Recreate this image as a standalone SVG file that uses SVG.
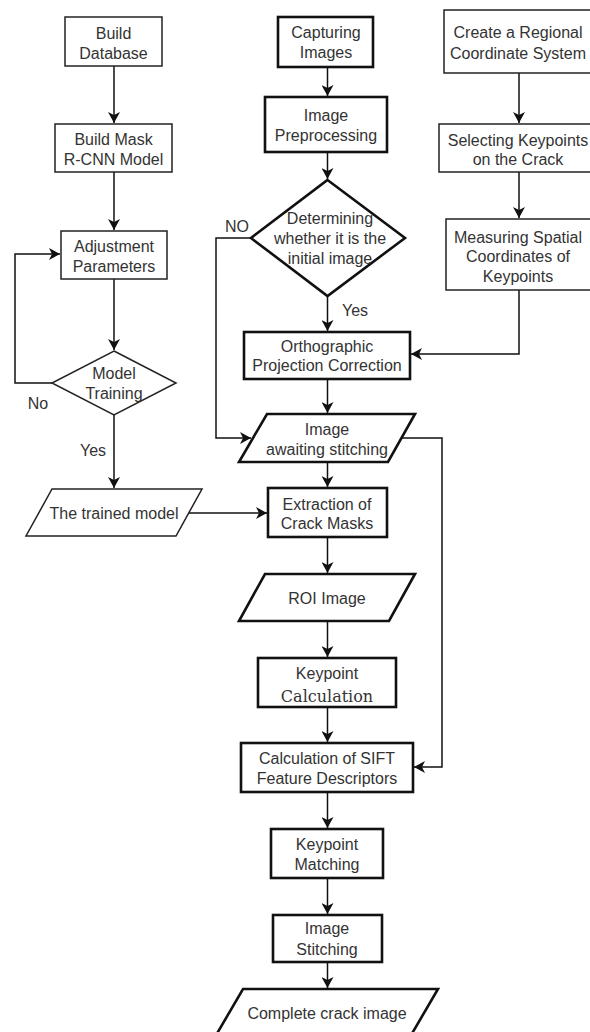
<svg xmlns="http://www.w3.org/2000/svg" width="590" height="1032" viewBox="0 0 590 1032">
<style>
  .thin{fill:#fff;stroke:#222;stroke-width:1.5}
  .thick{fill:#fff;stroke:#111;stroke-width:2.6}
  .t{font-family:"Liberation Sans",Arial,sans-serif;font-size:16px;fill:#333;text-anchor:middle}
  .s{font-family:"DejaVu Serif","Liberation Serif",serif;font-size:16px;fill:#333;text-anchor:middle}
  .c{fill:none;stroke:#111;stroke-width:1.5}
</style>
<defs>
  <marker id="ah" markerUnits="userSpaceOnUse" markerWidth="12" markerHeight="12" refX="11" refY="6" orient="auto">
    <path d="M0,0 L11,6 L0,12 L3,6 Z" fill="#111"/>
  </marker>
</defs>
<rect width="590" height="1032" fill="#fff"/>

<g id="connectors">
  <path class="c" d="M114,66 V123" marker-end="url(#ah)"/>
  <path class="c" d="M114,172 V230" marker-end="url(#ah)"/>
  <path class="c" d="M114,279 V350" marker-end="url(#ah)"/>
  <path class="c" d="M52,383 H15 V254 H60" marker-end="url(#ah)"/>
  <path class="c" d="M114,415 V488" marker-end="url(#ah)"/>
  <path class="c" d="M189,513 H267" marker-end="url(#ah)"/>
  <path class="c" d="M327.5,67 V96" marker-end="url(#ah)"/>
  <path class="c" d="M327.5,152 V179" marker-end="url(#ah)"/>
  <path class="c" d="M327.5,296 V331" marker-end="url(#ah)"/>
  <path class="c" d="M251,238 H216 V438 H251" marker-end="url(#ah)"/>
  <path class="c" d="M327.5,379 V413" marker-end="url(#ah)"/>
  <path class="c" d="M327.5,462 V487" marker-end="url(#ah)"/>
  <path class="c" d="M401,438 H442 V767 H414" marker-end="url(#ah)"/>
  <path class="c" d="M327.5,537 V573" marker-end="url(#ah)"/>
  <path class="c" d="M327.5,621 V657" marker-end="url(#ah)"/>
  <path class="c" d="M327.5,707 V742" marker-end="url(#ah)"/>
  <path class="c" d="M327.5,792 V828" marker-end="url(#ah)"/>
  <path class="c" d="M327.5,878 V914" marker-end="url(#ah)"/>
  <path class="c" d="M327.5,962 V988" marker-end="url(#ah)"/>
  <path class="c" d="M519,73 V123" marker-end="url(#ah)"/>
  <path class="c" d="M519,172 V218" marker-end="url(#ah)"/>
  <path class="c" d="M519,290 V354 H411" marker-end="url(#ah)"/>
</g>

<g id="labels">
  <text class="t" x="38" y="409">No</text>
  <text class="t" x="93" y="456">Yes</text>
  <text class="t" x="237" y="232">NO</text>
  <text class="t" x="355" y="316">Yes</text>
</g>

<g id="build-database">
  <rect class="thin" x="65" y="17" width="97" height="49"/>
  <text class="t" x="113.5" y="39">Build</text>
  <text class="t" x="113.5" y="59">Database</text>
</g>
<g id="build-mask">
  <rect class="thin" x="55" y="124" width="117" height="48"/>
  <text class="t" x="113.5" y="145">Build Mask</text>
  <text class="t" x="113.5" y="165">R-CNN Model</text>
</g>
<g id="adjustment">
  <rect class="thin" x="61" y="231" width="106" height="48"/>
  <text class="t" x="114" y="252">Adjustment</text>
  <text class="t" x="114" y="272">Parameters</text>
</g>
<g id="model-training">
  <polygon class="thin" points="114,351 176,383 114,415 52,383"/>
  <text class="t" x="114" y="379">Model</text>
  <text class="t" x="114" y="399">Training</text>
</g>
<g id="trained-model">
  <polygon class="thin" points="52,489 202,489 176,536 26,536"/>
  <text class="t" x="114" y="519">The trained model</text>
</g>

<g id="capturing">
  <rect class="thick" x="278" y="17" width="95" height="50"/>
  <text class="t" x="326" y="38">Capturing</text>
  <text class="t" x="326" y="58">Images</text>
</g>
<g id="preprocessing">
  <rect class="thick" x="265" y="97" width="122" height="55"/>
  <text class="t" x="326" y="121">Image</text>
  <text class="t" x="326" y="141">Preprocessing</text>
</g>
<g id="determining">
  <polygon class="thick" points="327.5,180 405,238 327.5,296 251,238"/>
  <text class="t" x="330" y="224">Determining</text>
  <text class="t" x="330" y="244">whether it is the</text>
  <text class="t" x="330" y="264">initial image</text>
</g>
<g id="orthographic">
  <rect class="thick" x="244" y="332" width="166" height="47"/>
  <text class="t" x="327" y="352">Orthographic</text>
  <text class="t" x="327" y="371">Projection Correction</text>
</g>
<g id="awaiting">
  <polygon class="thick" points="267,414 415,414 388,462 239,462"/>
  <text class="t" x="327" y="435">Image</text>
  <text class="t" x="327" y="455">awaiting stitching</text>
</g>
<g id="extraction">
  <rect class="thick" x="268" y="488" width="119" height="49"/>
  <text class="t" x="327" y="510">Extraction of</text>
  <text class="t" x="327" y="529">Crack Masks</text>
</g>
<g id="roi">
  <polygon class="thick" points="265,574 415,574 389,621 239,621"/>
  <text class="t" x="327" y="604">ROI Image</text>
</g>
<g id="keypoint-calc">
  <rect class="thick" x="258" y="658" width="138" height="49"/>
  <text class="t" x="327" y="679">Keypoint</text>
  <text class="s" x="327" y="702">Calculation</text>
</g>
<g id="sift">
  <rect class="thick" x="241" y="743" width="172" height="49"/>
  <text class="t" x="327" y="764">Calculation of SIFT</text>
  <text class="t" x="327" y="784">Feature Descriptors</text>
</g>
<g id="matching">
  <rect class="thick" x="271" y="829" width="112" height="49"/>
  <text class="t" x="327" y="850">Keypoint</text>
  <text class="t" x="327" y="870">Matching</text>
</g>
<g id="stitching">
  <rect class="thick" x="273" y="915" width="109" height="47"/>
  <text class="t" x="327" y="934">Image</text>
  <text class="t" x="327" y="955">Stitching</text>
</g>
<g id="complete">
  <polygon class="thick" points="243,989 438,989 410,1037 215,1037"/>
  <text class="t" x="327" y="1019">Complete crack image</text>
</g>

<g id="regional">
  <rect class="thin" x="444" y="10" width="152" height="63"/>
  <text class="t" x="518" y="38">Create a Regional</text>
  <text class="t" x="518" y="59">Coordinate System</text>
</g>
<g id="selecting">
  <rect class="thin" x="439" y="124" width="158" height="48"/>
  <text class="t" x="518" y="146">Selecting Keypoints</text>
  <text class="t" x="518" y="165">on the Crack</text>
</g>
<g id="measuring">
  <rect class="thin" x="446" y="219" width="150" height="71"/>
  <text class="t" x="518" y="243">Measuring Spatial</text>
  <text class="t" x="518" y="262">Coordinates of</text>
  <text class="t" x="518" y="282">Keypoints</text>
</g>
</svg>
